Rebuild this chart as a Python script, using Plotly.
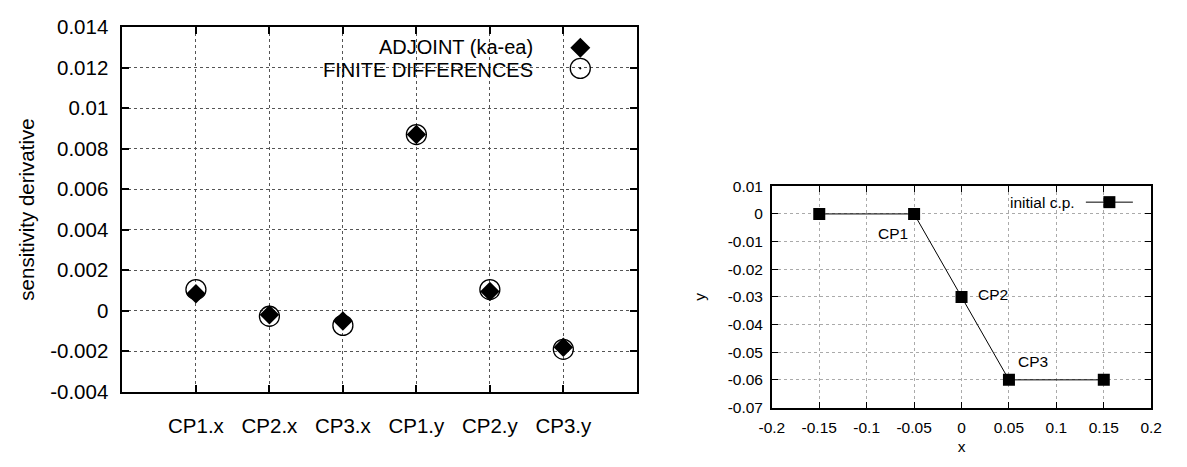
import plotly.graph_objects as go

# ---------------- data ----------------
categories = ["CP1.x", "CP2.x", "CP3.x", "CP1.y", "CP2.y", "CP3.y"]
cat_pos = [1, 2, 3, 4, 5, 6]
adjoint = [0.00084, -0.0002, -0.0005, 0.0087, 0.00095, -0.0018]
finite_diff = [0.00105, -0.00027, -0.00072, 0.0087, 0.00105, -0.0019]

left_yticks = [-0.004, -0.002, 0, 0.002, 0.004, 0.006, 0.008, 0.01, 0.012, 0.014]
left_yticklabels = ["-0.004", "-0.002", "0", "0.002", "0.004", "0.006",
                    "0.008", "0.01", "0.012", "0.014"]

cp_x = [-0.15, -0.05, 0.0, 0.05, 0.15]
cp_y = [0.0, 0.0, -0.03, -0.06, -0.06]
cp_names = ["", "CP1", "CP2", "CP3", ""]

right_xticks = [-0.2, -0.15, -0.1, -0.05, 0, 0.05, 0.1, 0.15, 0.2]
right_xticklabels = ["-0.2", "-0.15", "-0.1", "-0.05", "0", "0.05", "0.1", "0.15", "0.2"]
right_yticks = [0.01, 0, -0.01, -0.02, -0.03, -0.04, -0.05, -0.06, -0.07]
right_yticklabels = ["0.01", "0", "-0.01", "-0.02", "-0.03", "-0.04", "-0.05", "-0.06", "-0.07"]

# ---------------- figure ----------------
W, H = 1187, 467
FONT = "Liberation Sans, Arial, sans-serif"
LF = 20.5   # left chart font size
RF = 15.5   # right chart font size

def px(x):
    return x / W

def py(y):
    return (H - y) / H

fig = go.Figure()

# left chart
fig.add_trace(go.Scatter(
    x=cat_pos, y=finite_diff, mode="markers", name="FINITE DIFFERENCES",
    marker=dict(symbol="circle-open-dot", size=20, color="black",
                line=dict(width=1.3, color="black")),
    xaxis="x", yaxis="y", showlegend=False))
fig.add_trace(go.Scatter(
    x=cat_pos, y=adjoint, mode="markers", name="ADJOINT (ka-ea)",
    marker=dict(symbol="diamond", size=15, color="black", line=dict(width=0)),
    xaxis="x", yaxis="y", showlegend=False))

# right chart
fig.add_trace(go.Scatter(
    x=cp_x, y=cp_y, mode="lines+markers", name="initial c.p.",
    line=dict(color="black", width=1),
    marker=dict(symbol="square", size=12, color="black"),
    xaxis="x2", yaxis="y2", showlegend=False))

left_axis_common = dict(showline=True, linecolor="black", linewidth=2,
                        mirror="ticks", ticks="inside", ticklen=7,
                        tickcolor="black", tickwidth=1.5,
                        showgrid=True, gridcolor="#555", griddash="dot",
                        gridwidth=1, zeroline=False,
                        tickfont=dict(family=FONT, size=LF, color="black"))
right_axis_common = dict(showline=True, linecolor="black", linewidth=1.5,
                         mirror="ticks", ticks="inside", ticklen=6,
                         tickcolor="black", tickwidth=1,
                         showgrid=True, gridcolor="#aaa", griddash="dot",
                         gridwidth=1, zeroline=False,
                         tickfont=dict(family=FONT, size=RF, color="black"))

fig.update_layout(
    width=W, height=H,
    margin=dict(l=0, r=0, t=0, b=0),
    paper_bgcolor="white", plot_bgcolor="white",
    font=dict(family=FONT, color="black"),
    xaxis=dict(domain=[px(111.7), px(636.7)], range=[0, 7],
               tickvals=cat_pos, ticktext=categories,
               ticklabelstandoff=15, anchor="y", **left_axis_common),
    yaxis=dict(domain=[py(399.5), py(16)], range=[-0.004, 0.014],
               tickvals=left_yticks, ticktext=left_yticklabels,
               ticklabelstandoff=8, anchor="x",
               title=dict(text="sensitivity derivative",
                          font=dict(family=FONT, size=LF, color="black"), standoff=10),
               **left_axis_common),
    xaxis2=dict(domain=[px(774.5), px(1161.7)], range=[-0.2, 0.2],
                tickvals=right_xticks, ticktext=right_xticklabels,
                ticklabelstandoff=5, anchor="y2",
                title=dict(text="x", font=dict(family=FONT, size=RF, color="black"), standoff=6),
                **right_axis_common),
    yaxis2=dict(domain=[py(416), py(183.3)], range=[-0.07, 0.01],
                tickvals=right_yticks, ticktext=right_yticklabels,
                ticklabelstandoff=4, anchor="x2",
                title=dict(text="y", font=dict(family=FONT, size=RF, color="black"), standoff=18),
                **right_axis_common),
)

# control point labels
label_shift = {"CP1": (-21, -20), "CP2": (31, 2), "CP3": (24, 18)}
for xv, yv, name in zip(cp_x, cp_y, cp_names):
    if name:
        dx, dy = label_shift[name]
        fig.add_annotation(x=xv, y=yv, xref="x2", yref="y2", text=name,
                           showarrow=False, xshift=dx, yshift=dy,
                           font=dict(family=FONT, size=RF, color="black"))

# left legend (text on the left, key on the right, gnuplot style)
leg_keys = [("ADJOINT (ka-ea)", 36.3), ("FINITE DIFFERENCES", 60.5)]
for text, yy in leg_keys:
    fig.add_annotation(x=px(533), y=py(yy), xref="paper", yref="paper",
                       xanchor="right", yanchor="middle", text=text,
                       showarrow=False,
                       font=dict(family=FONT, size=20, color="black"))
# diamond key
fig.add_shape(type="path", xref="paper", yref="paper",
              xsizemode="pixel", ysizemode="pixel",
              xanchor=px(579), yanchor=py(37.7),
              path="M -10 0 L 0 10 L 10 0 L 0 -10 Z",
              fillcolor="black", line=dict(width=0))
# circle key
fig.add_shape(type="circle", xref="paper", yref="paper",
              xsizemode="pixel", ysizemode="pixel",
              xanchor=px(579), yanchor=py(59.3),
              x0=-10, x1=10, y0=-10, y1=10,
              line=dict(color="black", width=1.3))
fig.add_shape(type="circle", xref="paper", yref="paper",
              xsizemode="pixel", ysizemode="pixel",
              xanchor=px(579), yanchor=py(59.3),
              x0=-0.8, x1=0.8, y0=-0.8, y1=0.8,
              fillcolor="black", line=dict(color="black", width=0.5))

# right legend
fig.add_annotation(x=px(1086), y=py(200), xref="paper", yref="paper",
                   xanchor="right", yanchor="middle", text="initial c.p.",
                   showarrow=False, font=dict(family=FONT, size=RF, color="black"))
fig.add_shape(type="line", xref="paper", yref="paper",
              x0=px(1095), x1=px(1143), y0=py(200), y1=py(200),
              line=dict(color="black", width=1))
fig.add_shape(type="rect", xref="paper", yref="paper",
              xsizemode="pixel", ysizemode="pixel",
              xanchor=px(1119), yanchor=py(200),
              x0=-6, x1=6, y0=-6, y1=6,
              fillcolor="black", line=dict(width=0))

fig.write_html("out.html")
